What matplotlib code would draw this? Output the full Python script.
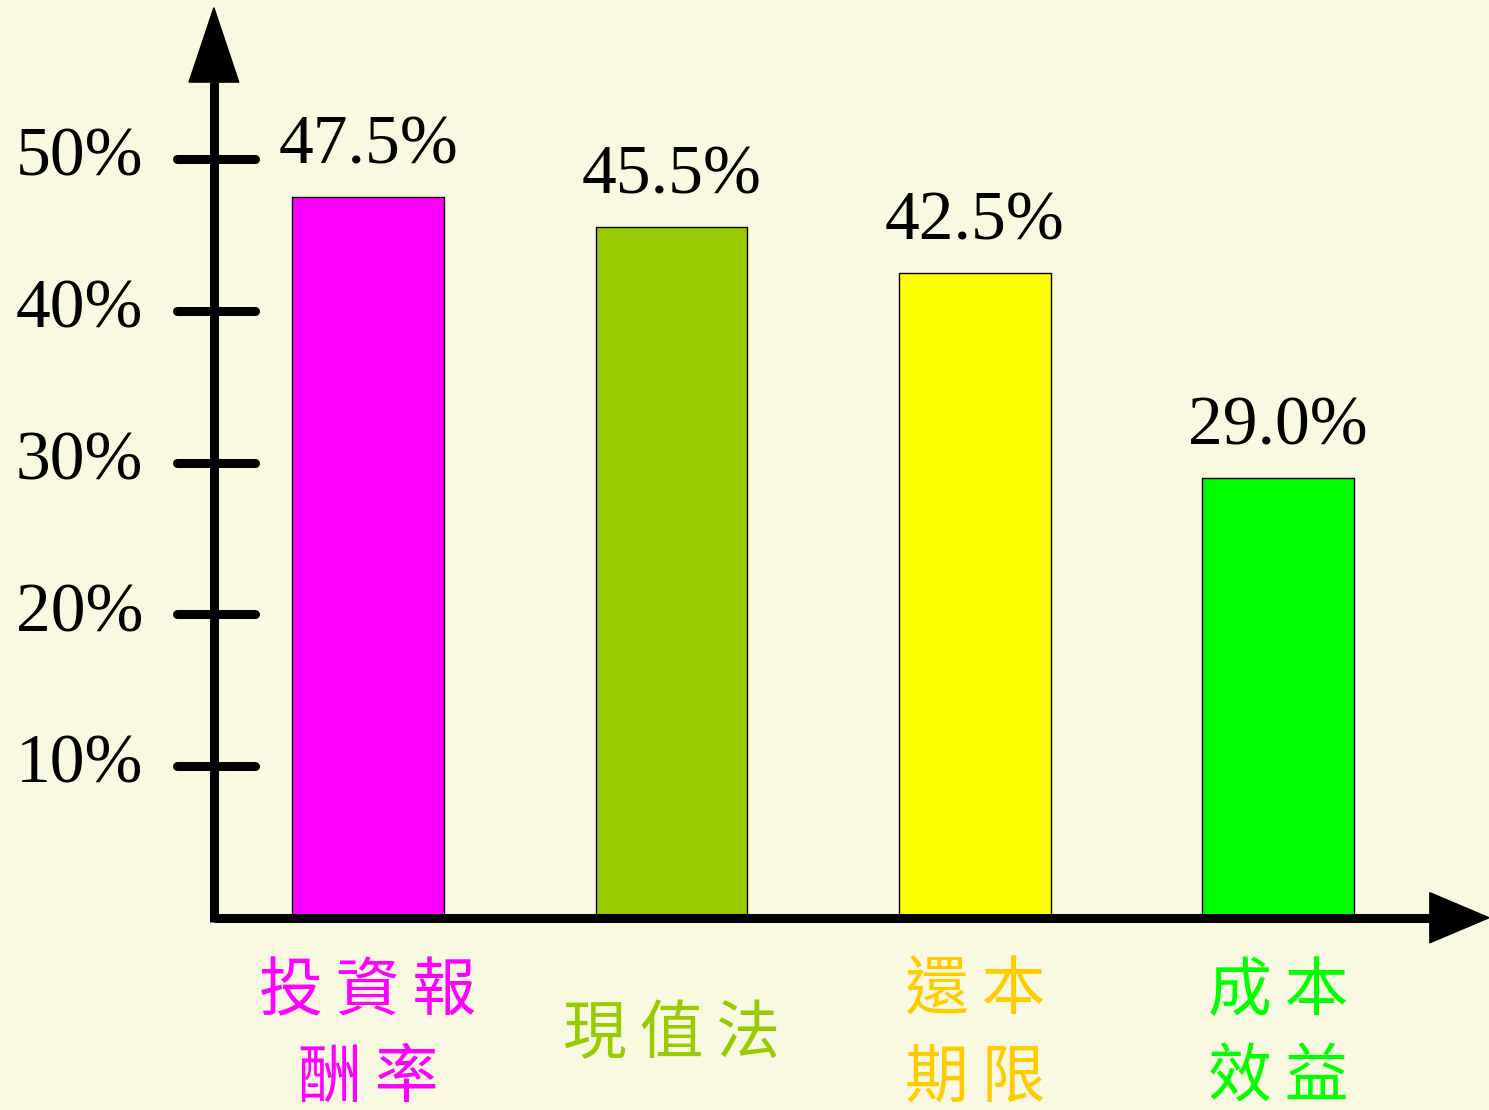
import matplotlib.pyplot as plt
from matplotlib.patches import Polygon

# survey results for capital budgeting methods
categories = ["投資報\n酬率", "現值法", "還本\n期限", "成本\n效益"]
values = [47.5, 45.5, 42.5, 29.0]
bar_colors = ["#FF00FF", "#99CC00", "#FFFF00", "#00FF00"]
label_colors = ["#FF00FF", "#99CC00", "#FFCC00", "#00FF00"]
yticks = [10, 20, 30, 40, 50]

bg = "#F9F9E1"
serif = ["Liberation Serif", "DejaVu Serif"]
cjk = ["Noto Sans CJK TC", "DejaVu Sans"]

fig = plt.figure(figsize=(14.89, 11.10), dpi=100, facecolor=bg)
ax = fig.add_axes([0, 0, 1, 1])
ax.set_facecolor(bg)
ax.axis("off")
ax.set_xlim(-1.213, 3.695)
ax.set_ylim(-12.67, 60.48)

x = list(range(len(categories)))
ax.bar(x, values, width=0.5, color=bar_colors, edgecolor="black", linewidth=1.0, zorder=2)

# value labels above each bar
for xi, v in zip(x, values):
    ax.annotate(f"{v:.1f}%", (xi, v), xytext=(0, 24), textcoords="offset points",
                ha="center", va="baseline", fontsize=50, family=serif)

# axes drawn by hand with arrow heads
ax_x = -0.508
x_end = 3.50
y_end = 55.07
lw = 6.5
ax.plot([ax_x, ax_x], [-0.3, y_end], color="black", lw=lw, solid_capstyle="butt", zorder=3)
ax.plot([ax_x, x_end], [0, 0], color="black", lw=lw, solid_capstyle="butt", zorder=3)
ax.add_patch(Polygon([[ax_x - 0.082, y_end], [ax_x + 0.082, y_end], [ax_x, 59.97]],
                     closed=True, color="black", zorder=3))
ax.add_patch(Polygon([[x_end, -1.65], [x_end, 1.65], [3.695, 0]],
                     closed=True, color="black", zorder=3))

# tick dashes and labels
for t in yticks:
    ax.plot([-0.628, -0.374], [t, t], color="black", lw=lw, solid_capstyle="round", zorder=3)
    ax.text(-0.742, t, f"{t}%", ha="right", va="center", fontsize=50, family=serif)

# category names under the axis, letters spread with thin spaces
for xi, name, c in zip(x, categories, label_colors):
    spaced = "\n".join("\u2009".join(line) for line in name.split("\n"))
    ax.text(xi, -7.75, spaced, ha="center", va="center", fontsize=46, color=c,
            family=cjk, linespacing=1.4)

fig.savefig("out.png", dpi=100, facecolor=bg)
